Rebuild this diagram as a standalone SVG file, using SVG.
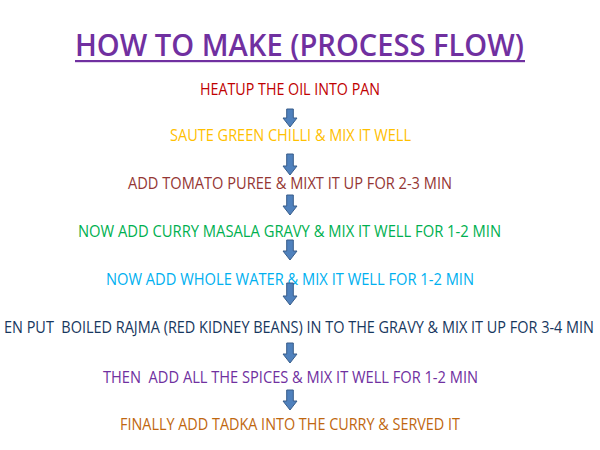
<svg xmlns="http://www.w3.org/2000/svg" width="600" height="450" viewBox="0 0 600 450">
<defs>
<style>
text{font-family:"Open Sans","Liberation Sans",sans-serif;font-size:16px;}
.title{font-size:30px;font-weight:600;fill:#7030a0;}
.arr{fill:#4f81bd;stroke:#385d8a;stroke-width:1;}
</style>
</defs>
<rect width="600" height="450" fill="#ffffff"/>
<g id="title">
<text class="title" x="75" y="56" textLength="449" lengthAdjust="spacingAndGlyphs">HOW TO MAKE (PROCESS FLOW)</text>
<rect x="75" y="60" width="450" height="2.2" fill="#7030a0"/>
</g>
<g id="step1"><text x="200" y="95" fill="#c00000" textLength="180" lengthAdjust="spacingAndGlyphs">HEATUP THE OIL INTO PAN</text></g>
<g id="step2"><text x="170" y="141" fill="#ffc000" textLength="241" lengthAdjust="spacingAndGlyphs">SAUTE GREEN CHILLI &amp; MIX IT WELL</text></g>
<g id="step3"><text x="128" y="189" fill="#943634" textLength="324" lengthAdjust="spacingAndGlyphs">ADD TOMATO PUREE &amp; MIXT IT UP FOR 2-3 MIN</text></g>
<g id="step4"><text x="78" y="237" fill="#00b050" textLength="423" lengthAdjust="spacingAndGlyphs">NOW ADD CURRY MASALA GRAVY &amp; MIX IT WELL FOR 1-2 MIN</text></g>
<g id="step5"><text x="106" y="285" fill="#00b0f0" textLength="368" lengthAdjust="spacingAndGlyphs">NOW ADD WHOLE WATER &amp; MIX IT WELL FOR 1-2 MIN</text></g>
<g id="step6"><text x="4" y="333" fill="#17375e" textLength="590" lengthAdjust="spacingAndGlyphs" xml:space="preserve">EN PUT  BOILED RAJMA (RED KIDNEY BEANS) IN TO THE GRAVY &amp; MIX IT UP FOR 3-4 MIN</text></g>
<g id="step7"><text x="103" y="383" fill="#7030a0" textLength="375" lengthAdjust="spacingAndGlyphs" xml:space="preserve">THEN  ADD ALL THE SPICES &amp; MIX IT WELL FOR 1-2 MIN</text></g>
<g id="step8"><text x="120" y="430" fill="#c0670f" textLength="340" lengthAdjust="spacingAndGlyphs">FINALLY ADD TADKA INTO THE CURRY &amp; SERVED IT</text></g>
<g id="connectors">
<path class="arr" d="M286.7,109 H293.3 V118 H297 L290,127 L283,118 H286.7 Z"/>
<path class="arr" d="M286.7,154 H293.3 V166 H297 L290,175 L283,166 H286.7 Z"/>
<path class="arr" d="M286.7,195 H293.3 V206 H297 L290,215 L283,206 H286.7 Z"/>
<path class="arr" d="M286.7,240 H293.3 V251 H297 L290,260 L283,251 H286.7 Z"/>
<path class="arr" d="M286.7,283 H293.3 V296 H297 L290,305 L283,296 H286.7 Z"/>
<path class="arr" d="M286.7,343 H293.3 V354 H297 L290,363 L283,354 H286.7 Z"/>
<path class="arr" d="M286.7,390 H293.3 V401 H297 L290,410 L283,401 H286.7 Z"/>
</g>
</svg>
